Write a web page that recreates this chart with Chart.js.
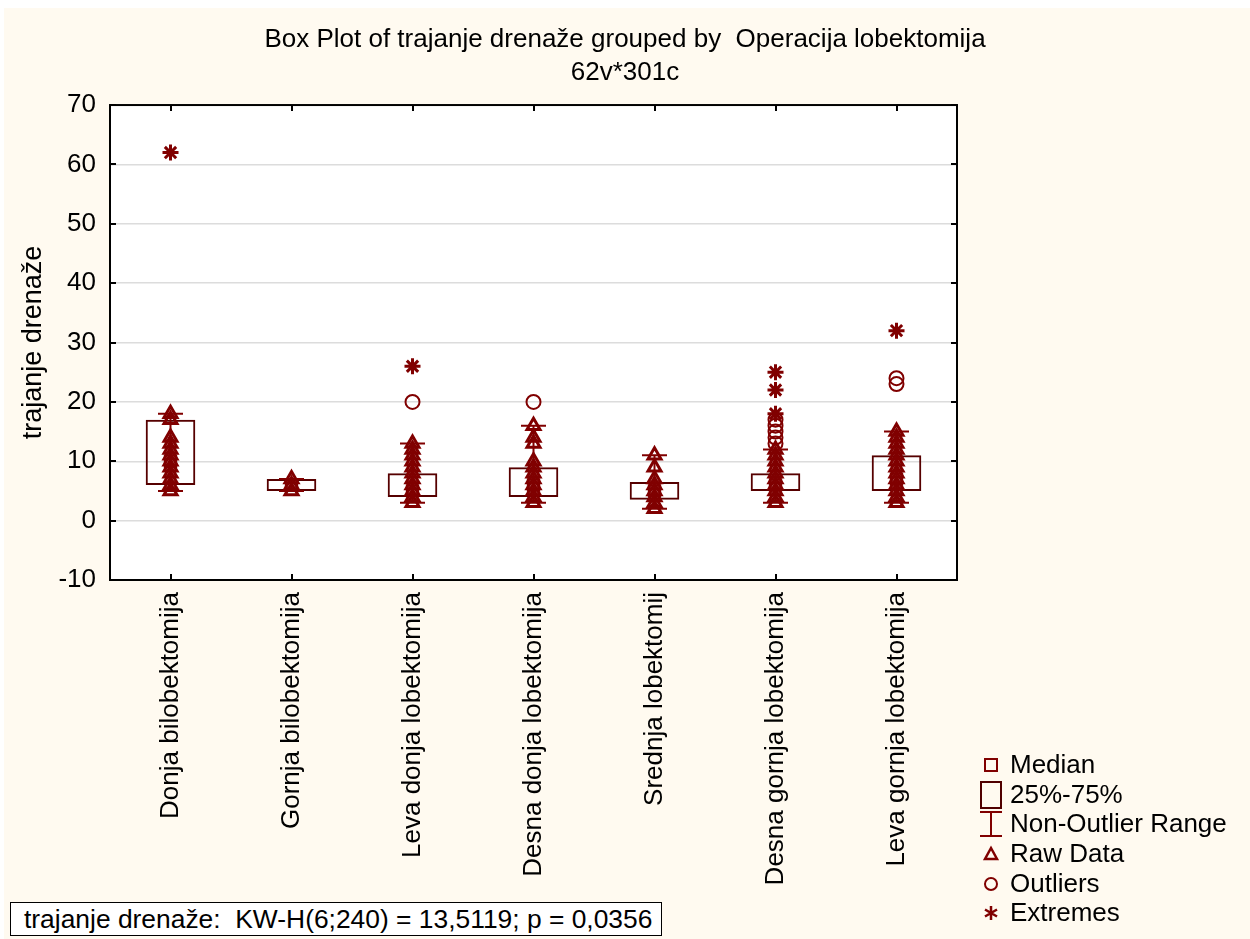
<!DOCTYPE html>
<html>
<head>
<meta charset="utf-8">
<script src="https://cdn.jsdelivr.net/npm/chart.js@4.4.1/dist/chart.umd.min.js"></script>
<style>
	html, body { margin: 0; padding: 0; background: #ffffff; }
	#page { position: absolute; left: 4px; top: 8px; width: 1246px; height: 931px; background: #fffaf0; }
	#wrap { position: absolute; left: 0; top: 0; width: 1250px; height: 939px; }
	.legend { position: absolute; left: 978px; top: 750px; font-family: "Liberation Sans", Arial, sans-serif; font-size: 26px; color: #000; }
	.legend .item { position: relative; height: 29.7px; line-height: 29.7px; padding-left: 32px; white-space: nowrap; }
	.legend svg { position: absolute; left: 0; top: 0; }
	#stat { position: absolute; left: 10px; top: 902px; width: 652px; height: 34px; border: 1.5px solid #000; background: #fff;
		font-family: "Liberation Sans", Arial, sans-serif; font-size: 26.4px; line-height: 32px; padding-left: 13px; box-sizing: border-box; white-space: nowrap; }
</style>
</head>
<body>
<div id="page"></div>
<div id="wrap"><canvas id="chart" width="1250" height="939"></canvas></div>

<div class="legend">
	<div class="item"><svg width="30" height="30"><rect x="7" y="9" width="12" height="12" fill="none" stroke="#800000" stroke-width="2"/></svg>Median</div>
	<div class="item"><svg width="30" height="30"><rect x="3" y="2" width="20" height="26" fill="none" stroke="#500000" stroke-width="2"/></svg>25%-75%</div>
	<div class="item"><svg width="30" height="30"><path d="M2 3 H24 M13 3 V27 M2 27 H24" fill="none" stroke="#800000" stroke-width="2"/></svg>Non-Outlier Range</div>
	<div class="item"><svg width="30" height="30"><path d="M13 9 L19 20 L7 20 Z" fill="none" stroke="#800000" stroke-width="2.5"/></svg>Raw Data</div>
	<div class="item"><svg width="30" height="30"><circle cx="13" cy="15" r="6" fill="none" stroke="#800000" stroke-width="2"/></svg>Outliers</div>
	<div class="item"><svg width="30" height="30"><path d="M13 8 V22 M7 11.5 L19 18.5 M7 18.5 L19 11.5" fill="none" stroke="#800000" stroke-width="2.5"/></svg>Extremes</div>
</div>
<div id="stat">trajanje drenaže:&nbsp; KW-H(6;240) = 13,5119; p = 0,0356</div>

<script>
// values
const categories = [
	'Donja bilobektomija',
	'Gornja bilobektomija',
	'Leva donja lobektomija',
	'Desna donja lobektomija',
	'Srednja lobektomij',
	'Desna gornja lobektomija',
	'Leva gornja lobektomija'
];
const q1 = [6, 5, 4, 4, 3.5, 5, 5];
const q3 = [17, 7, 8, 9, 6.5, 8, 11];
const medians = [10, 6, 5, 6, 5, 6, 7];
const whiskerLow = [5, 5, 3, 3, 2, 3, 3];
const whiskerHigh = [18, 7, 13, 16, 11, 12, 15];
const rawData = [
	[5, 6, 7, 8, 9, 10, 11, 12, 13, 14, 17, 18],
	[5, 6, 7],
	[3, 4, 5, 6, 7, 8, 9, 10, 11, 12, 13],
	[3, 4, 5, 6, 7, 8, 9, 10, 13, 14, 16],
	[2, 3, 4, 5, 6, 7, 9, 11],
	[3, 4, 5, 6, 7, 8, 9, 10, 11, 12],
	[3, 4, 5, 6, 7, 8, 9, 10, 11, 12, 13, 14, 15]
];
const outliers = [[], [], [20], [20], [], [13, 14, 15, 16, 17], [23, 24]];
const extremes = [[62], [], [26], [], [], [18, 22, 25], [32]];
const yTicks = [-10, 0, 10, 20, 30, 40, 50, 60, 70];

const MARK = '#800000';
const BOX = '#560000';
const FONT = '"Liberation Sans", Arial, sans-serif';

// flatten per-category lists into {x, y} points
function points(lists) {
	const out = [];
	lists.forEach((vals, i) => vals.forEach(v => out.push({ x: categories[i], y: v })));
	return out;
}

const whiskerLines = [];
categories.forEach((c, i) => {
	whiskerLines.push({ x: c, y: whiskerLow[i] }, { x: c, y: whiskerHigh[i] }, { x: c, y: null });
});
const whiskerCaps = [];
categories.forEach((c, i) => {
	whiskerCaps.push({ x: c, y: whiskerLow[i] }, { x: c, y: whiskerHigh[i] });
});

// white plot area, black frame and inside ticks
const framePlugin = {
	id: 'frame',
	beforeDraw(chart) {
		const a = chart.chartArea;
		const ctx = chart.ctx;
		ctx.save();
		ctx.fillStyle = '#ffffff';
		ctx.fillRect(a.left, a.top, a.right - a.left, a.bottom - a.top);
		ctx.restore();
	},
	afterDatasetsDraw(chart) {
		const a = chart.chartArea;
		const ctx = chart.ctx;
		const ys = chart.scales.y;
		const xs = chart.scales.x;
		ctx.save();
		ctx.strokeStyle = '#000';
		ctx.lineWidth = 2;
		ctx.strokeRect(a.left, a.top, a.right - a.left, a.bottom - a.top);
		ctx.beginPath();
		yTicks.forEach(v => {
			const py = Math.round(ys.getPixelForValue(v));
			ctx.moveTo(a.left, py); ctx.lineTo(a.left + 6, py);
			ctx.moveTo(a.right, py); ctx.lineTo(a.right - 6, py);
		});
		categories.forEach((c, i) => {
			const px = Math.round(xs.getPixelForValue(i));
			ctx.moveTo(px, a.bottom); ctx.lineTo(px, a.bottom - 6);
			ctx.moveTo(px, a.top); ctx.lineTo(px, a.top + 6);
		});
		ctx.stroke();
		ctx.restore();
	}
};

new Chart(document.getElementById('chart'), {
	type: 'bar',
	data: {
		labels: categories,
		datasets: [
			{
				type: 'line', label: 'Extremes', order: 0,
				data: points(extremes), showLine: false,
				pointStyle: 'star', pointRadius: 8, borderColor: MARK, borderWidth: 3, backgroundColor: MARK
			},
			{
				type: 'line', label: 'Outliers', order: 1,
				data: points(outliers), showLine: false,
				pointStyle: 'circle', pointRadius: 7, borderColor: MARK, borderWidth: 2, backgroundColor: 'rgba(0,0,0,0)'
			},
			{
				type: 'line', label: 'Median', order: 2,
				data: medians.map((v, i) => ({ x: categories[i], y: v })), showLine: false,
				pointStyle: 'rect', pointRadius: 8, borderColor: MARK, borderWidth: 2, backgroundColor: 'rgba(0,0,0,0)'
			},
			{
				type: 'line', label: 'Raw Data', order: 3,
				data: points(rawData), showLine: false,
				pointStyle: 'triangle', pointRadius: 7.5, borderColor: MARK, borderWidth: 3, backgroundColor: 'rgba(0,0,0,0)'
			},
			{
				type: 'line', label: 'Caps', order: 4,
				data: whiskerCaps, showLine: false,
				pointStyle: 'line', pointRadius: 12.5, borderColor: MARK, borderWidth: 2
			},
			{
				type: 'line', label: 'Whiskers', order: 5,
				data: whiskerLines, spanGaps: false, pointRadius: 0,
				borderColor: MARK, borderWidth: 2
			},
			{
				label: '25%-75%', order: 6,
				data: q1.map((v, i) => [v, q3[i]]),
				backgroundColor: 'rgba(0,0,0,0)', borderColor: BOX, borderWidth: 2, borderSkipped: false,
				barPercentage: 0.41, categoryPercentage: 1
			}
		]
	},
	options: {
		responsive: false,
		animation: false,
		events: [],
		layout: { padding: 0 },
		plugins: {
			legend: { display: false },
			tooltip: { enabled: false },
			title: {
				display: true,
				text: ['Box Plot of trajanje drenaže grouped by  Operacija lobektomija', '62v*301c'],
				color: '#000',
				font: { family: FONT, size: 26, weight: 'normal', lineHeight: 1.27 },
				padding: { top: 23, bottom: 16 }
			}
		},
		scales: {
			x: {
				offset: true,
				grid: { display: false, drawTicks: false },
				border: { display: false },
				ticks: {
					autoSkip: false, maxRotation: 90, minRotation: 90, padding: 12,
					color: '#000', font: { family: FONT, size: 26 }
				},
				afterFit(scale) { scale.height = 359; }
			},
			y: {
				min: -10, max: 70,
				afterBuildTicks(scale) { scale.ticks = yTicks.map(v => ({ value: v })); },
				grid: {
					drawTicks: false, lineWidth: 1.5,
					color: ctx => (ctx.tick && (ctx.tick.value === -10 || ctx.tick.value === 70)) ? 'rgba(0,0,0,0)' : '#dcdcdc'
				},
				border: { display: false },
				ticks: { padding: 14, color: '#000', font: { family: FONT, size: 26 } },
				title: {
					display: true, text: 'trajanje drenaže', color: '#000',
					font: { family: FONT, size: 27 }, padding: { top: 17, bottom: 0 }
				},
				afterFit(scale) { scale.width = 110; }
			},
			// empty right-hand box reserving the legend column, keeps the title centred on the page
			side: {
				type: 'linear', position: 'right', display: true,
				grid: { display: false, drawTicks: false },
				border: { display: false },
				ticks: { display: false },
				afterFit(scale) { scale.width = 293; }
			}
		}
	},
	plugins: [framePlugin]
});
</script>
</body>
</html>
